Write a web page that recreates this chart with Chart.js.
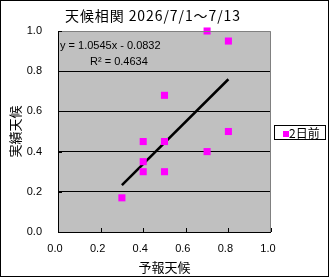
<!DOCTYPE html>
<html>
<head>
<meta charset="utf-8">
<script src="https://cdn.jsdelivr.net/npm/chart.js@4.4.1/dist/chart.umd.min.js"></script>
<style>
  html, body { margin: 0; padding: 0; background: #fff; }
  #wrap { width: 330px; height: 278px; position: relative; }
</style>
</head>
<body>
<div id="wrap"><canvas id="c" width="330" height="278"></canvas></div>
<script>
// ---- data ----
const chartTitle = '天候相関 2026/7/1～7/13';
const seriesLabel = '2日前';
const forecastValues = [0.3, 0.4, 0.4, 0.4, 0.5, 0.5, 0.5, 0.7, 0.7, 0.8, 0.8];
const actualValues   = [0.17, 0.45, 0.35, 0.30, 0.68, 0.45, 0.30, 1.00, 0.40, 0.95, 0.50];
const trendX = [0.3, 0.8];
const trendY = [0.233, 0.760];
const equationText = 'y = 1.0545x - 0.0832';
const r2Text = 'R² = 0.4634';
const xTitle = '予報天候';
const yTitle = '実績天候';
const tickValues = [0, 0.2, 0.4, 0.6, 0.8, 1.0];

const FONT = '"Liberation Sans", "Noto Sans CJK JP", sans-serif';
const JFONT = '"Noto Sans CJK JP", "Liberation Sans", sans-serif';
const MAGENTA = '#FF00FF';

const points = forecastValues.map((x, i) => ({ x, y: actualValues[i] }));
const trend = trendX.map((x, i) => ({ x, y: trendY[i] }));

const decor = {
  id: 'decor',
  beforeDraw(chart) {
    const { ctx, chartArea: a } = chart;
    ctx.save();
    ctx.fillStyle = '#fff';
    ctx.fillRect(0, 0, chart.width, chart.height);
    ctx.fillStyle = '#C0C0C0';
    ctx.fillRect(a.left, a.top, a.right - a.left, a.bottom - a.top);
    ctx.restore();
  },
  afterDraw(chart) {
    const { ctx, chartArea: a, scales } = chart;
    ctx.save();
    // plot border top/right (gray)
    ctx.strokeStyle = '#808080';
    ctx.lineWidth = 1;
    ctx.beginPath();
    ctx.moveTo(Math.round(a.left) + 0.5, Math.round(a.top) + 0.5);
    ctx.lineTo(Math.round(a.right) - 0.5, Math.round(a.top) + 0.5);
    ctx.lineTo(Math.round(a.right) - 0.5, Math.round(a.bottom));
    ctx.stroke();
    // axes (black)
    ctx.strokeStyle = '#000';
    ctx.beginPath();
    ctx.moveTo(Math.round(a.left) + 0.5, Math.round(a.top));
    ctx.lineTo(Math.round(a.left) + 0.5, Math.round(a.bottom) + 0.5);
    ctx.lineTo(Math.round(a.right), Math.round(a.bottom) + 0.5);
    ctx.stroke();
    // inward tick marks
    ctx.beginPath();
    tickValues.forEach(v => {
      const px = Math.round(scales.x.getPixelForValue(v)) + 0.5;
      ctx.moveTo(px, a.bottom);
      ctx.lineTo(px, a.bottom - 4);
      const py = Math.round(scales.y.getPixelForValue(v)) + 0.5;
      ctx.moveTo(a.left, py);
      ctx.lineTo(a.left + 4, py);
    });
    ctx.stroke();
    // chart title (stretched to the reference width)
    ctx.fillStyle = '#000';
    ctx.font = '14px ' + JFONT;
    ctx.textAlign = 'left';
    ctx.textBaseline = 'middle';
    const w = ctx.measureText(chartTitle).width;
    const n = [...chartTitle].length;
    const sp = Math.max(0, (175 - w) / (n - 1));
    if ('letterSpacing' in ctx) {
      ctx.letterSpacing = sp + 'px';
      ctx.fillText(chartTitle, 65, 16);
      ctx.letterSpacing = '0px';
    } else {
      ctx.fillText(chartTitle, 65, 16);
    }
    // equation
    ctx.font = '11px ' + FONT;
    ctx.fillText(equationText, a.left + 2, 46);
    ctx.fillText(r2Text, a.left + 32, 62);
    // legend
    ctx.strokeStyle = '#000';
    ctx.strokeRect(274.5, 125.5, 51, 14);
    const ds = chart.data.datasets[0];
    ctx.fillStyle = ds.backgroundColor;
    ctx.fillRect(283, 131, 6, 6);
    ctx.fillStyle = '#000';
    ctx.font = '12px ' + JFONT;
    ctx.fillText(ds.label, 289, 133);
    // outer border
    ctx.strokeStyle = '#000';
    ctx.strokeRect(0.5, 0.5, 328, 276);
    ctx.restore();
  }
};

new Chart(document.getElementById('c'), {
  type: 'scatter',
  data: {
    datasets: [
      {
        label: seriesLabel,
        data: points,
        backgroundColor: MAGENTA,
        borderColor: MAGENTA,
        borderWidth: 0,
        pointStyle: 'rect',
        pointRadius: 5,
        clip: false,
        order: 1
      },
      {
        type: 'line',
        label: 'trend',
        data: trend,
        borderColor: '#000',
        borderWidth: 2.5,
        pointRadius: 0,
        fill: false,
        showLine: true,
        order: 2
      }
    ]
  },
  options: {
    responsive: false,
    animation: false,
    devicePixelRatio: 1,
    layout: { padding: { left: 0, right: 59, top: 31, bottom: 0 } },
    plugins: {
      legend: { display: false },
      title: { display: false },
      tooltip: { enabled: false }
    },
    scales: {
      x: {
        type: 'linear',
        min: 0, max: 1,
        afterFit(s) { s.height = 46; },
        afterBuildTicks(s) { s.ticks = tickValues.map(v => ({ value: v })); },
        ticks: {
          color: '#000',
          font: { family: FONT, size: 11 },
          padding: 10,
          labelOffset: -3,
          maxRotation: 0,
          callback: v => Number(v).toFixed(1)
        },
        grid: { display: false, drawTicks: false },
        border: { display: false },
        title: {
          display: true,
          text: xTitle,
          color: '#000',
          font: { family: JFONT, size: 13 },
          padding: { top: 0, bottom: 3 }
        }
      },
      y: {
        type: 'linear',
        min: 0, max: 1,
        afterFit(s) { s.width = 58; },
        afterBuildTicks(s) { s.ticks = tickValues.map(v => ({ value: v })); },
        ticks: {
          color: '#000',
          font: { family: FONT, size: 11 },
          padding: 16,
          callback: v => Number(v).toFixed(1)
        },
        grid: {
          drawTicks: false,
          color: ctx => (ctx.tick && (ctx.tick.value === 0 || ctx.tick.value === 1)) ? 'rgba(0,0,0,0)' : '#000',
          lineWidth: 1
        },
        border: { display: false },
        title: {
          display: true,
          text: yTitle,
          color: '#000',
          font: { family: JFONT, size: 13 },
          padding: { top: 7, bottom: 0 }
        }
      }
    }
  },
  plugins: [decor]
});
</script>
</body>
</html>
